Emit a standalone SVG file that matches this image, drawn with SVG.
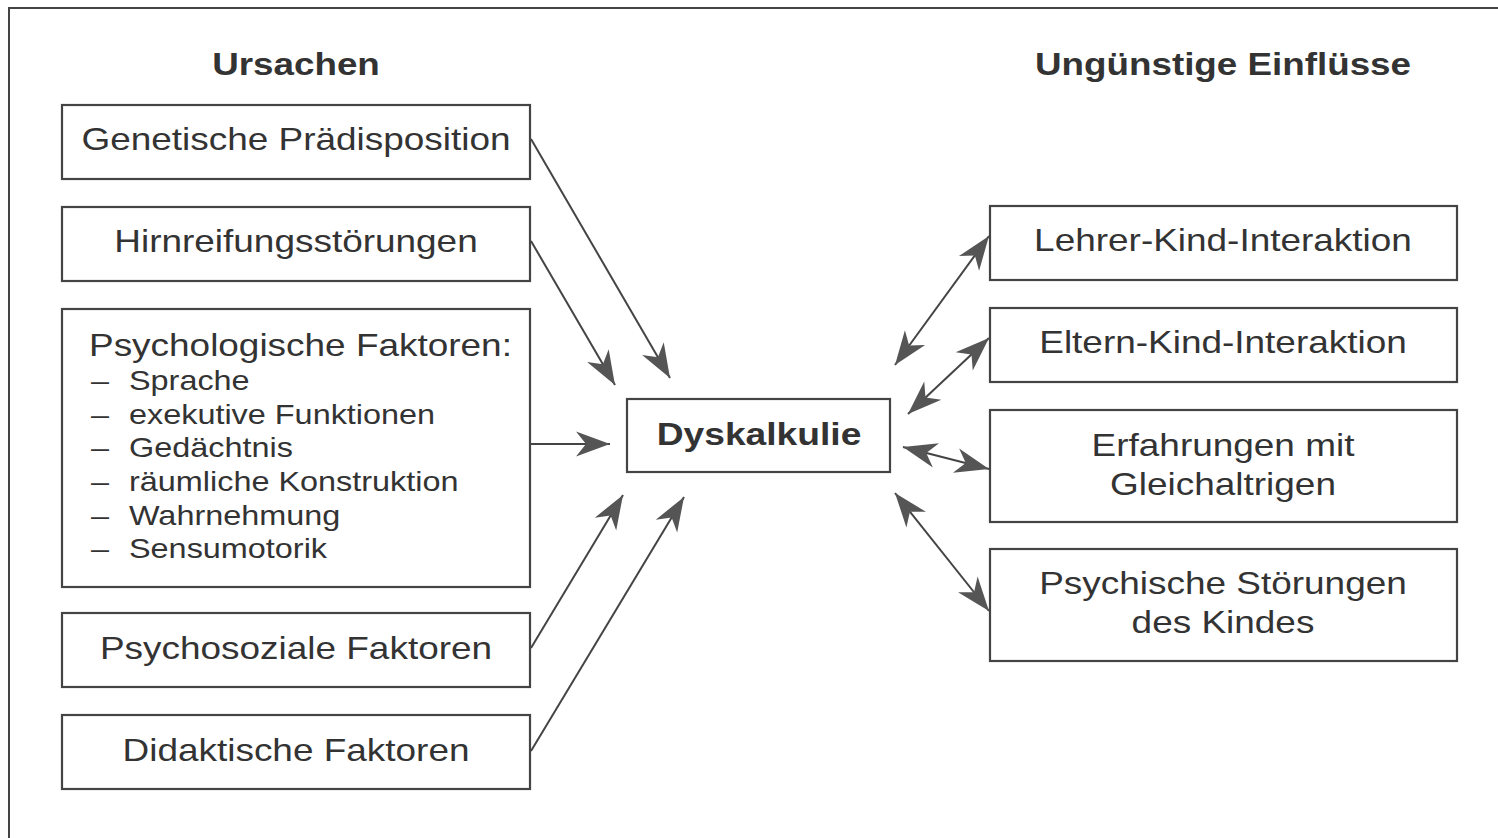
<svg xmlns="http://www.w3.org/2000/svg" width="1498" height="838" viewBox="0 0 1498 838">
<defs>
<style>
.box{fill:#fff;stroke:#444;stroke-width:2.2}
.t{font-family:"Liberation Sans",Arial,sans-serif;font-size:32px;fill:#333}
.c{text-anchor:middle}
.b{font-weight:bold}
.li{font-family:"Liberation Sans",Arial,sans-serif;font-size:27px;fill:#333}
.cn{stroke:#444;stroke-width:2;fill:none}
</style>
<marker id="ah" viewBox="-36 -14 38 28" refX="0" refY="0" markerWidth="38" markerHeight="28" markerUnits="userSpaceOnUse" orient="auto-start-reverse">
<path d="M0,0 L-34,-12.5 L-24,0 L-34,12.5 Z" fill="#555"/>
</marker>
</defs>
<rect x="0" y="0" width="1498" height="838" fill="#fff"/>
<path d="M9,838 L9,8 L1498,8" fill="none" stroke="#444" stroke-width="2"/>
<text class="t b c" transform="translate(296,75) scale(1.15,1)">Ursachen</text>
<text class="t b c" transform="translate(1223,75) scale(1.15,1)">Ungünstige Einflüsse</text>
<g id="genetisch"><rect class="box" x="62" y="105" width="468" height="74"/><text class="t c" transform="translate(296,150) scale(1.155,1)">Genetische Prädisposition</text></g>
<g id="hirnreifung"><rect class="box" x="62" y="207" width="468" height="74"/><text class="t c" transform="translate(296,252) scale(1.155,1)">Hirnreifungsstörungen</text></g>
<g id="psychologisch"><rect class="box" x="62" y="309" width="468" height="278"/>
<text class="t" transform="translate(89,356) scale(1.155,1)">Psychologische Faktoren:</text>
<text class="li" transform="translate(91,390) scale(1.2,1)">–</text><text class="li" transform="translate(129,390) scale(1.2,1)">Sprache</text>
<text class="li" transform="translate(91,424) scale(1.2,1)">–</text><text class="li" transform="translate(129,424) scale(1.2,1)">exekutive Funktionen</text>
<text class="li" transform="translate(91,457) scale(1.2,1)">–</text><text class="li" transform="translate(129,457) scale(1.2,1)">Gedächtnis</text>
<text class="li" transform="translate(91,491) scale(1.2,1)">–</text><text class="li" transform="translate(129,491) scale(1.2,1)">räumliche Konstruktion</text>
<text class="li" transform="translate(91,525) scale(1.2,1)">–</text><text class="li" transform="translate(129,525) scale(1.2,1)">Wahrnehmung</text>
<text class="li" transform="translate(91,558) scale(1.2,1)">–</text><text class="li" transform="translate(129,558) scale(1.2,1)">Sensumotorik</text>
</g>
<g id="psychosozial"><rect class="box" x="62" y="613" width="468" height="74"/><text class="t c" transform="translate(296,659) scale(1.155,1)">Psychosoziale Faktoren</text></g>
<g id="didaktisch"><rect class="box" x="62" y="715" width="468" height="74"/><text class="t c" transform="translate(296,761) scale(1.155,1)">Didaktische Faktoren</text></g>
<g id="dyskalkulie"><rect class="box" x="627" y="399" width="263" height="73"/><text class="t b c" transform="translate(759,445) scale(1.2,1)" style="font-size:31px">Dyskalkulie</text></g>
<g id="lehrer"><rect class="box" x="990" y="206" width="467" height="74"/><text class="t c" transform="translate(1223,251) scale(1.155,1)">Lehrer-Kind-Interaktion</text></g>
<g id="eltern"><rect class="box" x="990" y="308" width="467" height="74"/><text class="t c" transform="translate(1223,353) scale(1.155,1)">Eltern-Kind-Interaktion</text></g>
<g id="gleichaltrige"><rect class="box" x="990" y="410" width="467" height="112"/><text class="t c" transform="translate(1223,456) scale(1.155,1)">Erfahrungen mit</text><text class="t c" transform="translate(1223,495) scale(1.155,1)">Gleichaltrigen</text></g>
<g id="psychisch"><rect class="box" x="990" y="549" width="467" height="112"/><text class="t c" transform="translate(1223,594) scale(1.155,1)">Psychische Störungen</text><text class="t c" transform="translate(1223,633) scale(1.155,1)">des Kindes</text></g>
<g id="connectors">
<line class="cn" x1="531" y1="139" x2="670" y2="378" marker-end="url(#ah)"/>
<line class="cn" x1="531" y1="241" x2="615" y2="385" marker-end="url(#ah)"/>
<line class="cn" x1="531" y1="444" x2="610" y2="444" marker-end="url(#ah)"/>
<line class="cn" x1="531" y1="648" x2="623" y2="495" marker-end="url(#ah)"/>
<line class="cn" x1="531" y1="751" x2="684" y2="497" marker-end="url(#ah)"/>
<line class="cn" x1="895" y1="365" x2="989" y2="236" marker-start="url(#ah)" marker-end="url(#ah)"/>
<line class="cn" x1="908" y1="414" x2="989" y2="338" marker-start="url(#ah)" marker-end="url(#ah)"/>
<line class="cn" x1="903" y1="447" x2="989" y2="469" marker-start="url(#ah)" marker-end="url(#ah)"/>
<line class="cn" x1="895" y1="493" x2="989" y2="611" marker-start="url(#ah)" marker-end="url(#ah)"/>
</g>
</svg>
